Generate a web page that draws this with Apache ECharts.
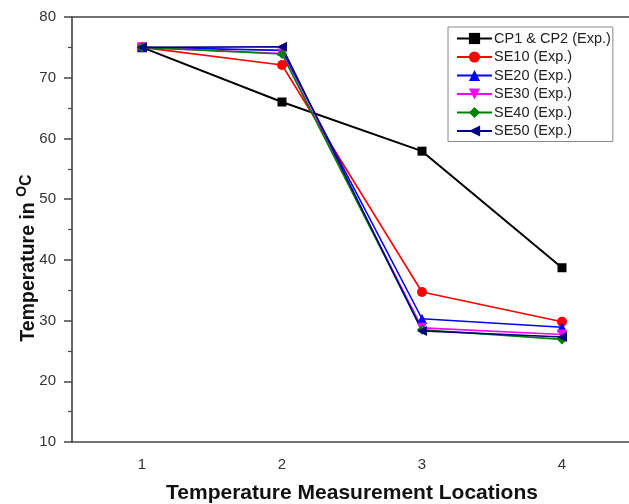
<!DOCTYPE html>
<html>
<head>
<meta charset="utf-8">
<script src="https://cdn.jsdelivr.net/npm/echarts@6/dist/echarts.min.js"></script>
<style>
  html, body { margin: 0; padding: 0; background: #fff; }
  #chart { width: 629px; height: 504px; }
</style>
</head>
<body>
<div id="chart"></div>
<script>
var locations = ['1', '2', '3', '4']
var yTicks = [10, 80, 10] // min, max, interval

var cp = [75, 66, 57.9, 38.7]
var se10 = [75, 72.1, 34.7, 29.8]
var se20 = [75, 74.5, 30.3, 28.9]
var se30 = [75, 74.0, 28.8, 27.7]
var se40 = [75, 73.9, 28.5, 26.9]
var se50 = [75, 75.1, 28.3, 27.3]

var seriesNames = ['CP1 & CP2 (Exp.)', 'SE10 (Exp.)', 'SE20 (Exp.)', 'SE30 (Exp.)', 'SE40 (Exp.)', 'SE50 (Exp.)']
var seriesValues = [cp, se10, se20, se30, se40, se50]
var colorList = ['#000000', '#ff0000', '#0000ff', '#ff00ff', '#008000', '#000080']
var symbols = ['rect', 'circle', 'triangle', 'triangle', 'diamond', 'triangle']
var rotations = [0, 0, 0, 180, 0, 90]

var font = 'Liberation Sans, Arial'
var chart = echarts.init(document.getElementById('chart'))

var series = seriesNames.map(function (name, i) {
  return {
    name: name,
    type: 'line',
    data: seriesValues[i],
    symbol: symbols[i],
    symbolRotate: rotations[i],
    symbolSize: i === 0 ? 9 : 10,
    lineStyle: { color: colorList[i], width: i === 0 ? 2 : 1.6 },
    itemStyle: { color: colorList[i] },
    animation: false
  }
})

var option = {
  backgroundColor: '#fff',
  grid: {
    left: 72,
    top: 17,
    width: 560,
    height: 425,
    outerBoundsMode: 'none',
    containLabel: false
  },
  legend: {
    orient: 'vertical',
    left: 448,
    top: 27,
    width: 166,
    padding: [4, 2, 3, 8],
    itemGap: 3.5,
    itemWidth: 35,
    itemHeight: 14,
    borderColor: '#888',
    borderWidth: 1,
    textStyle: { fontFamily: font, fontSize: 14.5, color: '#222', padding: [0, 0, 0, -3] },
    data: seriesNames
  },
  xAxis: [
    {
      type: 'category',
      data: locations,
      boundaryGap: true,
      name: 'Temperature Measurement Locations',
      nameLocation: 'middle',
      nameGap: 41,
      nameMoveOverlap: false,
      nameTextStyle: { fontFamily: font, fontWeight: 'bold', fontSize: 21, color: '#111' },
      axisLine: { lineStyle: { color: '#444', width: 1.6 } },
      axisTick: { alignWithLabel: true, length: 6, lineStyle: { color: '#444', width: 1.5 } },
      axisLabel: { margin: 15, fontFamily: font, fontSize: 15, color: '#333' },
      splitLine: { show: false }
    },
    {
      type: 'category',
      position: 'top',
      data: locations,
      axisLine: { lineStyle: { color: '#444', width: 1.6 } },
      axisTick: { show: false },
      axisLabel: { show: false },
      splitLine: { show: false }
    }
  ],
  yAxis: {
    type: 'value',
    min: yTicks[0],
    max: yTicks[1],
    interval: yTicks[2],
    name: '{a|Temperature in }{o|O}{c|C}',
    nameLocation: 'middle',
    nameGap: 33,
    nameMoveOverlap: false,
    nameTextStyle: {
      fontFamily: font,
      fontWeight: 'bold',
      color: '#111',
      padding: [0, 57, 0, 0],
      rich: {
        a: { fontFamily: font, fontWeight: 'bold', fontSize: 19.5, color: '#111', verticalAlign: 'bottom', lineHeight: 24 },
        o: { fontFamily: font, fontWeight: 'bold', fontSize: 14, color: '#111', verticalAlign: 'top', lineHeight: 24 },
        c: { fontFamily: font, fontWeight: 'bold', fontSize: 16, color: '#111', verticalAlign: 'middle', lineHeight: 24 }
      }
    },
    axisLine: { show: true, lineStyle: { color: '#444', width: 1.6 } },
    axisTick: { show: true, length: 8, lineStyle: { color: '#444', width: 1.5 } },
    minorTick: { show: true, splitNumber: 2, length: 4, lineStyle: { color: '#444', width: 1.2 } },
    axisLabel: { margin: 16, fontFamily: font, fontSize: 15, color: '#333' },
    splitLine: { show: false }
  },
  series: series
}

chart.setOption(option)
</script>
</body>
</html>
